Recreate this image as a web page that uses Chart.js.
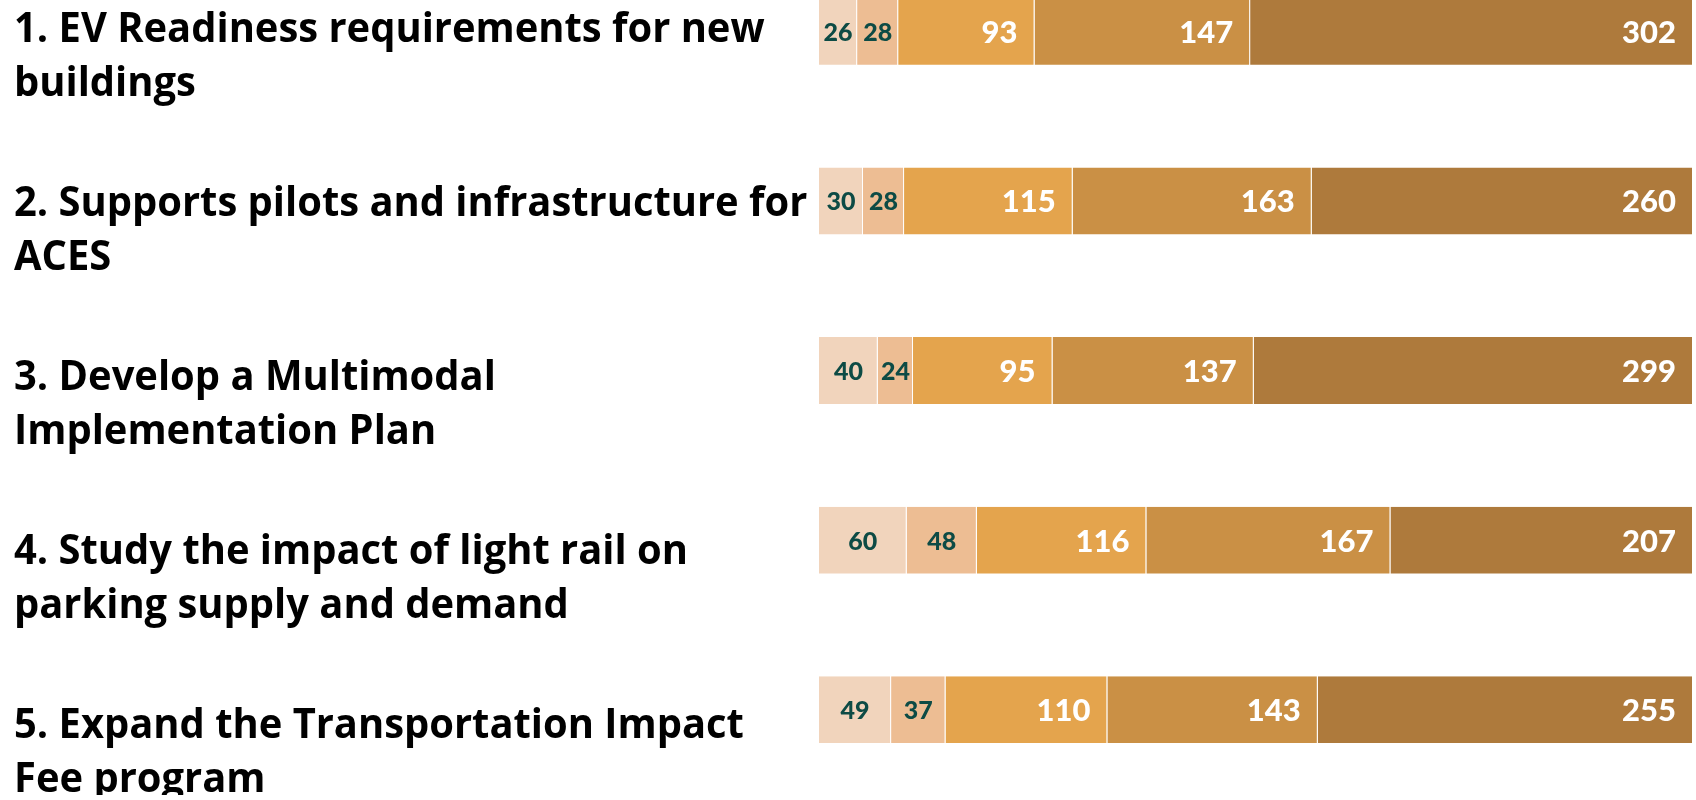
<!DOCTYPE html>
<html>
<head>
<meta charset="utf-8">
<script src="https://cdn.jsdelivr.net/npm/chart.js@4.4.1/dist/chart.umd.min.js"></script>
<style>
    html, body { margin: 0; padding: 0; background: #ffffff; overflow: hidden; }
    #contenedor { position: absolute; left: 0; top: -53px; width: 1696px; height: 848px; }
</style>
</head>
<body>
<div id="contenedor"><canvas id="canvasAcciones"></canvas></div>
<script>
// Each item label is split in two lines, as in the slide
const acciones = [
    ['1. EV Readiness requirements for new', 'buildings'],
    ['2. Supports pilots and infrastructure for', 'ACES'],
    ['3. Develop a Multimodal', 'Implementation Plan'],
    ['4. Study the impact of light rail on', 'parking supply and demand'],
    ['5. Expand the Transportation Impact', 'Fee program']
];
const niveles = ['1', '2', '3', '4', '5'];
const respuestas1 = [26, 30, 40, 60, 49];
const respuestas2 = [28, 28, 24, 48, 37];
const respuestas3 = [93, 115, 95, 116, 110];
const respuestas4 = [147, 163, 137, 167, 143];
const respuestas5 = [302, 260, 299, 207, 255];

const colores = ['#F1D4BC', '#EDBD93', '#E4A44D', '#CA9045', '#AE7A3C'];
const COLOR_OSCURO = '#0D4B45';
const LABEL_X = 14;
const LABEL_PRIMERA = 95;     // baseline of first label, canvas coords
const LABEL_PASO = 174;
const LABEL_INTERLINEA = 54;
const LABEL_ESCALA_X = 0.95;

const series = [respuestas1, respuestas2, respuestas3, respuestas4, respuestas5];
const totales = acciones.map((_, i) => series.reduce((s, arr) => s + arr[i], 0));

const datasets = series.map((arr, k) => ({
    label: niveles[k],
    data: arr.map((v, i) => v / totales[i] * 100),
    valores: arr,
    backgroundColor: colores[k],
    borderColor: 'rgba(255,255,255,0.15)',
    borderWidth: { right: 1, bottom: 1 },
    borderSkipped: false,
    barPercentage: 0.4,
    categoryPercentage: 1
}));

const pluginEtiquetas = {
    id: 'etiquetas',
    afterDatasetsDraw(chart) {
        const ctx = chart.ctx;
        ctx.save();
        ctx.textBaseline = 'middle';
        chart.data.datasets.forEach((ds, k) => {
            const meta = chart.getDatasetMeta(k);
            meta.data.forEach((bar, i) => {
                const texto = String(ds.valores[i]);
                if (k < 2) {
                    ctx.font = '900 25px Lato';
                    ctx.fillStyle = COLOR_OSCURO;
                    ctx.textAlign = 'center';
                    ctx.fillText(texto, (bar.x + bar.base) / 2, bar.y + 1);
                } else {
                    ctx.font = '900 31px Lato';
                    ctx.fillStyle = '#ffffff';
                    ctx.textAlign = 'right';
                    ctx.fillText(texto, bar.x - 17, bar.y + 1);
                }
            });
        });
        ctx.restore();
    },
    afterDraw(chart) {
        const ctx = chart.ctx;
        ctx.save();
        ctx.font = 'bold 42px "Open Sans"';
        ctx.fillStyle = '#000000';
        ctx.textAlign = 'left';
        ctx.textBaseline = 'alphabetic';
        ctx.translate(LABEL_X, 0);
        ctx.scale(LABEL_ESCALA_X, 1);
        acciones.forEach((lineas, i) => {
            const base = LABEL_PRIMERA + i * LABEL_PASO;
            lineas.forEach((l, j) => ctx.fillText(l, 0, base + j * LABEL_INTERLINEA));
        });
        ctx.restore();
    }
};

new Chart(document.getElementById('canvasAcciones'), {
    type: 'bar',
    data: { labels: acciones.map(a => a.join(' ')), datasets },
    options: {
        indexAxis: 'y',
        responsive: true,
        maintainAspectRatio: false,
        animation: false,
        layout: { padding: { left: 819, right: 3, top: 0, bottom: 0 } },
        plugins: { legend: { display: false }, tooltip: { enabled: false } },
        scales: {
            x: { stacked: true, min: 0, max: 100, display: false },
            y: { stacked: true, display: false }
        }
    },
    plugins: [pluginEtiquetas]
});
</script>
</body>
</html>
